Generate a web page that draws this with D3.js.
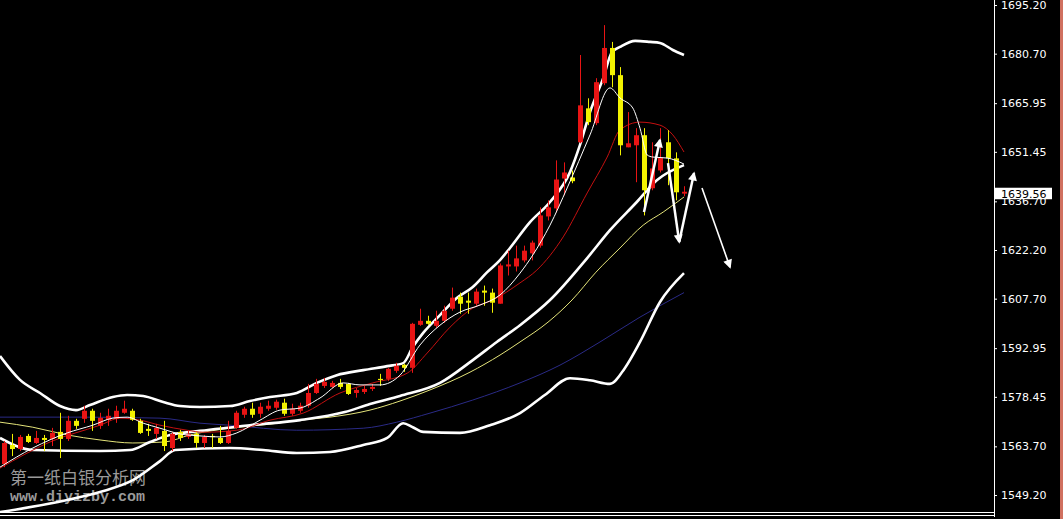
<!DOCTYPE html>
<html><head><meta charset="utf-8">
<script src="https://cdn.jsdelivr.net/npm/d3@7"></script>
<style>
html,body{margin:0;padding:0;background:#000;overflow:hidden;}
svg{display:block;}
</style></head>
<body>
<svg id="chart" width="1063" height="519"></svg>
<script>
// ---- candle data (index 0..85) ----
const opens  = [1558.4,1564.1,1562.9,1566.8,1564.7,1566.2,1565.9,1568.0,1565.9,1571.3,1571.9,1574.3,1569.8,1571.6,1571.9,1573.7,1574.3,1571.3,1568.9,1567.4,1568.3,1563.2,1568.0,1566.5,1567.4,1564.7,1566.8,1566.2,1564.7,1569.2,1573.1,1574.9,1573.4,1574.9,1575.2,1576.7,1573.4,1574.3,1575.8,1579.6,1581.7,1581.4,1582.6,1582.3,1579.6,1579.9,1580.8,1583.8,1583.8,1586.2,1588.0,1587.1,1599.9,1601.1,1599.6,1601.1,1604.7,1608.3,1607.1,1606.2,1610.1,1609.5,1606.2,1617.3,1617.3,1619.1,1621.2,1623.5,1632.2,1634.6,1643.5,1643.8,1654.3,1664.4,1660.0,1671.9,1682.4,1674.3,1652.8,1653.4,1656.4,1640.6,1645.9,1654.3,1649.5,1639.0];
const highs  = [1565.3,1567.4,1567.1,1567.4,1568.3,1567.1,1569.2,1573.7,1572.8,1571.9,1575.8,1574.9,1573.7,1574.9,1575.8,1577.3,1574.9,1571.9,1570.4,1570.4,1571.3,1568.0,1568.6,1568.3,1568.0,1567.1,1567.4,1569.8,1571.3,1574.3,1575.5,1576.7,1576.7,1577.3,1577.6,1577.9,1576.4,1576.7,1582.3,1583.8,1584.1,1583.2,1583.8,1582.6,1581.1,1581.7,1582.3,1585.3,1587.1,1588.6,1588.3,1600.5,1604.7,1602.6,1604.1,1605.6,1611.0,1609.5,1609.5,1610.7,1611.6,1610.7,1618.2,1622.0,1623.5,1623.5,1625.0,1634.9,1637.0,1648.9,1648.3,1645.9,1680.3,1667.4,1673.4,1689.2,1684.2,1676.7,1663.3,1658.5,1658.5,1654.3,1658.5,1657.9,1651.3,1641.2];
const lows   = [1557.5,1560.8,1562.3,1564.7,1564.4,1562.3,1563.8,1560.2,1565.3,1568.9,1570.7,1568.3,1568.9,1569.8,1570.7,1573.4,1571.3,1567.4,1566.8,1565.9,1562.3,1562.3,1565.3,1565.9,1563.2,1563.2,1563.2,1564.4,1564.4,1568.9,1572.2,1572.2,1572.2,1574.3,1574.6,1572.8,1572.8,1573.7,1575.2,1579.3,1581.1,1581.1,1580.8,1579.0,1578.2,1579.3,1580.2,1581.7,1583.2,1585.6,1585.9,1585.6,1599.6,1599.9,1599.0,1600.5,1604.1,1603.2,1603.2,1605.6,1605.6,1603.5,1606.2,1614.6,1615.8,1618.5,1619.1,1622.9,1631.0,1633.4,1638.5,1642.1,1654.0,1659.4,1659.4,1671.3,1670.7,1650.4,1652.8,1642.4,1632.5,1640.0,1645.3,1641.5,1637.0,1638.2];
const closes = [1564.7,1562.9,1566.5,1565.0,1566.2,1565.6,1567.7,1565.9,1571.3,1569.8,1574.3,1571.3,1572.2,1572.8,1574.3,1574.9,1571.6,1567.7,1568.3,1569.2,1563.8,1567.4,1566.2,1567.4,1564.7,1566.5,1566.5,1564.7,1568.3,1573.7,1574.9,1573.1,1575.5,1575.8,1577.0,1573.4,1574.9,1575.8,1579.6,1582.3,1582.9,1582.6,1581.4,1579.3,1580.5,1580.8,1581.4,1583.5,1586.8,1587.7,1587.1,1600.2,1601.1,1600.2,1601.1,1604.1,1608.0,1606.2,1606.5,1609.8,1609.5,1606.5,1617.6,1617.9,1619.7,1622.0,1624.4,1632.5,1634.9,1643.2,1645.3,1642.7,1665.3,1660.3,1672.2,1682.4,1674.3,1653.4,1654.0,1656.4,1640.0,1646.5,1649.8,1649.5,1639.4,1639.56];

// ---- axis ----
const tickLabels = ["1695.20","1680.70","1665.95","1651.45","1636.70","1622.20","1607.70","1592.95","1578.45","1563.70","1549.20"];
const lastPrice = 1639.56;

// ---- indicator lines, [bar index, price] ----
const upperBand = [[-0.5,1590.6],[2,1583.5],[4.5,1579.6],[7,1575.7],[9,1574.5],[10.75,1576.0],[13.6,1578.4],[15.4,1579.0],[17.4,1578.7],[19.9,1576.9],[22,1575.7],[24.5,1575.4],[28.25,1575.7],[30.75,1577.2],[33.25,1578.4],[36.6,1579.6],[39.1,1582.6],[41.6,1584.9],[44.9,1586.4],[47.9,1587.6],[49.9,1588.5],[51.1,1593.3],[52.4,1597.5],[54.5,1602.8],[56.6,1607.9],[58.6,1611.2],[60.4,1615.6],[62,1619.2],[63.25,1622.8],[65.75,1630.5],[68.25,1636.5],[70.75,1645.4],[72,1653.5],[73.25,1663.3],[74.9,1673.4],[76,1681.2],[77,1682.7],[78.9,1684.5],[80.75,1684.2],[82,1683.9],[83.6,1681.8],[85,1680.3]];
const middleBand = [[-0.5,1566.2],[3.6,1562.6],[12,1562.3],[15.75,1562.6],[18.25,1565.0],[20.75,1567.1],[24.5,1568.3],[30.75,1570.0],[37,1571.5],[42.6,1573.9],[45.75,1576.3],[49.5,1578.7],[54.5,1582.6],[58.6,1589.4],[61.6,1594.8],[64.5,1599.8],[68.25,1607.3],[72.9,1619.8],[75.75,1628.1],[79.1,1636.5],[81.6,1643.0],[85,1647.5]];
const lowerBand = [[-0.5,1544.1],[7.9,1547.7],[12,1550.1],[16.1,1553.6],[19.5,1559.3],[21.4,1562.6],[28.25,1563.2],[32.4,1562.6],[36.6,1561.7],[40.75,1562.0],[44.9,1564.1],[47.9,1566.2],[49.9,1570.6],[51.1,1569.4],[52.4,1568.0],[57,1567.7],[60.75,1570.0],[64.5,1573.6],[67.6,1579.0],[70.75,1584.0],[73.25,1583.4],[75.75,1582.3],[77.6,1587.0],[79.5,1594.8],[82,1606.7],[85,1615.3]];
const ma5 = [[-0.5,1557.5],[3.6,1563.2],[7.9,1567.7],[11.1,1570.0],[13.6,1572.1],[15.4,1572.4],[17.4,1570.6],[19.5,1569.1],[22,1567.4],[24.5,1566.8],[27,1566.5],[29.1,1567.7],[32,1571.5],[34.5,1574.5],[37,1575.1],[39.5,1578.1],[42.4,1582.6],[44.5,1582.0],[47,1582.0],[49.5,1584.9],[52,1593.9],[54.5,1599.8],[57,1603.7],[59.5,1605.8],[62,1608.8],[64.5,1615.3],[66.1,1620.7],[68.25,1629.6],[70.4,1640.7],[73.25,1656.5],[75.75,1670.5],[77,1667.5],[78.6,1664.5],[79.5,1658.5],[80.4,1650.5],[81.1,1649.9],[82.9,1649.6],[85,1647.8]];
const ma10 = [[-0.5,1557.2],[5.75,1565.0],[12,1570.0],[14.5,1572.1],[17,1571.5],[19.5,1570.0],[22.9,1568.5],[24.9,1567.9],[29.1,1568.5],[33.25,1571.5],[37.4,1573.6],[42,1579.6],[46.1,1582.6],[50.4,1585.5],[52.9,1591.5],[55.75,1599.2],[58.6,1604.9],[61.1,1607.3],[64.5,1612.4],[66.6,1616.2],[69.9,1626.1],[72.9,1639.2],[75.4,1649.9],[77,1658.0],[79.5,1660.3],[82,1659.4],[83.6,1656.5],[85,1651.4]];
const ma30 = [[-0.5,1570.9],[3.6,1569.4],[7.9,1567.1],[12,1565.6],[16.1,1564.7],[20.1,1565.0],[23.25,1567.1],[28.25,1569.1],[33.25,1570.3],[37,1571.5],[40.75,1572.4],[45.75,1574.5],[49.5,1577.2],[53.25,1580.5],[58.25,1585.8],[62,1590.9],[64.5,1594.8],[68,1600.7],[71,1607.3],[74,1615.6],[77,1622.8],[79.9,1629.6],[82.4,1633.5],[85,1638.0]];
const ma60 = [[-0.5,1572.4],[9.5,1572.4],[19.5,1572.1],[24.5,1570.6],[28.25,1570.0],[36.6,1568.5],[44.9,1569.1],[49.1,1570.9],[53.25,1573.6],[58.6,1577.5],[64.5,1582.6],[69.5,1587.9],[74.5,1594.8],[79.5,1602.2],[85,1609.5]];

// ---- hand-drawn arrows: [fromIndex, fromPrice, toIndex, toPrice] ----
const arrows = [[80,1633.5,82,1655.0],[83,1648.1,84.4,1624.6],[84.4,1624.6,86.25,1645.1],[87.25,1640.7,90.75,1617.1]];
const arrowWidths = [2.5,2.5,2.5,1.6];
const watermark = ["第一纸白银分析网","www.diyizby.com"];

// ---- drawing ----
const W = 1063, H = 519, plotRight = 994;
const svg = d3.select("#chart");
svg.append("rect").attr("width",W).attr("height",H).attr("fill","#000");

const x = d3.scaleLinear().domain([-0.5, 123.75]).range([0, plotRight]);
const y = d3.scaleLinear().domain([1549.2, 1695.2]).range([495, 5]);

svg.append("defs").append("clipPath").attr("id","plotClip")
  .append("rect").attr("x",0).attr("y",0).attr("width",plotRight).attr("height",512);
svg.select("defs").append("marker").attr("id","ah")
  .attr("viewBox","0 0 10 10").attr("refX",8).attr("refY",5)
  .attr("markerUnits","userSpaceOnUse").attr("markerWidth",11).attr("markerHeight",9)
  .attr("orient","auto")
  .append("path").attr("d","M0,0L10,5L0,10Z").attr("fill","#fff");

const plot = svg.append("g").attr("clip-path","url(#plotClip)");

// watermark
plot.append("text").attr("x",10).attr("y",484).text(watermark[0])
  .attr("font-family","'Noto Sans CJK SC'").attr("font-size",17).attr("fill","#9a9a9a");
plot.append("text").attr("x",10).attr("y",501).text(watermark[1])
  .attr("font-family","'Liberation Mono'").attr("font-weight","bold").attr("font-size",15).attr("fill","#9a9a9a");

const line = d3.line().x(d=>x(d[0])).y(d=>y(d[1])).curve(d3.curveMonotoneX);
const series = [
  {d:ma60, c:"#2a2a86", w:1},
  {d:ma30, c:"#e4e47a", w:1},
  {d:lowerBand, c:"#ffffff", w:2.6},
  {d:middleBand, c:"#ffffff", w:2.6},
  {d:upperBand, c:"#ffffff", w:2.6},
  {d:ma10, c:"#c41010", w:1},
];
series.forEach(s=>{
  plot.append("path").attr("d",line(s.d)).attr("fill","none")
    .attr("stroke",s.c).attr("stroke-width",s.w).attr("stroke-linejoin","round");
});

// candles
const idx = d3.range(opens.length);
const up = i => closes[i] >= opens[i];
const col = i => up(i) ? "#e81414" : "#f2f200";
const cg = plot.append("g");
cg.selectAll("line.wick").data(idx).join("line").attr("class","wick")
  .attr("x1",i=>Math.round(x(i))+0.5).attr("x2",i=>Math.round(x(i))+0.5)
  .attr("y1",i=>y(highs[i])).attr("y2",i=>y(lows[i]))
  .attr("stroke",col).attr("stroke-width",1);
cg.selectAll("rect.body").data(idx).join("rect").attr("class","body")
  .attr("x",i=>Math.round(x(i))-2).attr("width",5)
  .attr("y",i=>Math.min(y(opens[i]),y(closes[i])))
  .attr("height",i=>Math.max(1.2,Math.abs(y(opens[i])-y(closes[i]))))
  .attr("fill",col);

// fast MA on top of candles
plot.append("path").attr("d",line(ma5)).attr("fill","none")
  .attr("stroke","#ffffff").attr("stroke-width",1);

// arrows
arrows.forEach((a,k)=>{
  plot.append("line").attr("x1",x(a[0])).attr("y1",y(a[1]))
    .attr("x2",x(a[2])).attr("y2",y(a[3]))
    .attr("stroke","#fff").attr("stroke-width",arrowWidths[k])
    .attr("marker-end","url(#ah)");
});

// frame
svg.append("line").attr("x1",plotRight+0.5).attr("x2",plotRight+0.5).attr("y1",0).attr("y2",517)
  .attr("stroke","#fff").attr("stroke-width",1);
[512.5,515.5].forEach(yy=>svg.append("line").attr("x1",0).attr("x2",plotRight+1).attr("y1",yy).attr("y2",yy)
  .attr("stroke","#fff").attr("stroke-width",1));
svg.append("rect").attr("x",1060).attr("y",0).attr("width",3).attr("height",H).attr("fill","#d0705f");

// right axis
const axis = d3.axisRight(y).tickValues(tickLabels.map(Number))
  .tickFormat((d,i)=>tickLabels[i]).tickSize(3).tickPadding(4);
const ag = svg.append("g").attr("transform",`translate(${plotRight},0)`).call(axis);
ag.select(".domain").remove();
ag.selectAll(".tick line").attr("stroke","#fff");
ag.selectAll(".tick text").attr("fill","#fff").attr("font-family","'DejaVu Sans'").attr("font-size",11);

// last price tag
const yp = y(lastPrice);
svg.append("rect").attr("x",995).attr("y",yp-4).attr("width",57).attr("height",11.5).attr("fill","#fff");
svg.append("text").attr("x",1001).attr("y",yp+6.3).text(lastPrice.toFixed(2))
  .attr("font-family","'DejaVu Sans'").attr("font-size",11).attr("fill","#000");
</script>
</body></html>
